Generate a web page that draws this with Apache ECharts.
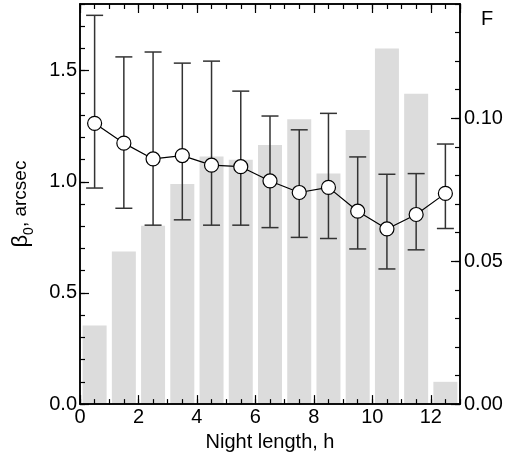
<!DOCTYPE html>
<html>
<head>
<meta charset="utf-8">
<script src="https://cdn.jsdelivr.net/npm/echarts@6/dist/echarts.min.js"></script>
<style>html,body{margin:0;padding:0;background:#fff}#c{width:511px;height:457px}</style>
</head>
<body>
<div id="c"></div>
<script>
const nightLength = [0.5, 1.5, 2.5, 3.5, 4.5, 5.5, 6.5, 7.5, 8.5, 9.5, 10.5, 11.5, 12.5];
const fraction = [0.0275, 0.0534, 0.0624, 0.077, 0.0866, 0.0855, 0.0907, 0.0997, 0.0807, 0.0959, 0.1244, 0.1086, 0.0078];
const beta = [1.263, 1.174, 1.103, 1.118, 1.075, 1.068, 1.004, 0.952, 0.975, 0.868, 0.788, 0.853, 0.948];
const betaHi = [1.749, 1.562, 1.584, 1.534, 1.543, 1.408, 1.296, 1.234, 1.308, 1.112, 1.034, 1.037, 1.170];
const betaLo = [0.972, 0.881, 0.805, 0.829, 0.805, 0.805, 0.794, 0.750, 0.745, 0.698, 0.608, 0.694, 0.790];

const FONT = "'Liberation Sans', Arial, sans-serif";
const chart = echarts.init(document.getElementById('c'));

const lineCol = '#000';
function xAx(pos, interval, len, labels, extra) {
  return Object.assign({
    type: 'value', min: 0, max: 13, interval: interval, position: pos, z: 5,
    axisLine: { show: true, onZero: false, lineStyle: { color: lineCol, width: 1.5 } },
    axisTick: { show: true, inside: true, length: len, lineStyle: { color: lineCol, width: 1.2 } },
    axisLabel: { show: labels, fontSize: 20, color: '#000', fontFamily: FONT, margin: 3, showMaxLabel: false },
    splitLine: { show: false }
  }, extra || {});
}
function yAx(pos, min, max, interval, len, labels, digits, extra) {
  return Object.assign({
    type: 'value', min: min, max: max, interval: interval, position: pos, z: 5,
    axisLine: { show: true, onZero: false, lineStyle: { color: lineCol, width: 1.5 } },
    axisTick: { show: true, inside: true, length: len, lineStyle: { color: lineCol, width: 1.2 } },
    axisLabel: { show: labels, fontSize: 20, color: '#000', fontFamily: FONT, margin: pos === 'left' ? 3 : 4,
      showMaxLabel: false, formatter: v => v.toFixed(digits) },
    splitLine: { show: false }
  }, extra || {});
}

const option = {
  animation: false,
  backgroundColor: '#fff',
  grid: { left: 80, right: 51, top: 4, bottom: 47.5, containLabel: false },
  xAxis: [
    xAx('bottom', 2, 9, true, {
      name: 'Night length, h', nameLocation: 'middle', nameGap: 21,
      nameTextStyle: { fontSize: 20, color: '#000', fontFamily: FONT }
    }),
    xAx('bottom', 0.5, 5, false),
    xAx('top', 2, 9, false),
    xAx('top', 0.5, 5, false)
  ],
  yAxis: [
    yAx('left', 0, 1.8, 0.5, 9, true, 1, {
      name: '{b|β}{s|0}{n|, arcsec}', nameLocation: 'middle', nameGap: 44, nameRotate: 90,
      nameTextStyle: {
        fontFamily: FONT, color: '#000',
        rich: {
          b: { fontSize: 22, fontFamily: FONT, color: '#000', lineHeight: 30, verticalAlign: 'middle' },
          s: { fontSize: 14, fontFamily: FONT, color: '#000', lineHeight: 14, verticalAlign: 'bottom' },
          n: { fontSize: 19, fontFamily: FONT, color: '#000', lineHeight: 30, verticalAlign: 'middle' }
        }
      }
    }),
    yAx('left', 0, 1.8, 0.1, 5, false, 1),
    yAx('right', 0, 0.14, 0.05, 9, true, 2),
    yAx('right', 0, 0.14, 0.01, 5, false, 2)
  ],
  graphic: [
    { type: 'text', left: 481, top: 9, style: { text: 'F', fontSize: 20, fontFamily: FONT, fill: '#000' } }
  ],
  series: [
    {
      type: 'bar', xAxisIndex: 0, yAxisIndex: 2, barWidth: 24, z: 1,
      itemStyle: { color: '#dcdcdc' },
      data: nightLength.map((x, i) => [x, fraction[i]])
    },
    {
      type: 'custom', xAxisIndex: 0, yAxisIndex: 0, z: 3,
      encode: { x: 0, y: [1, 2] },
      data: nightLength.map((x, i) => [x, betaLo[i], betaHi[i]]),
      renderItem: function (params, api) {
        const x = api.value(0);
        const lo = api.coord([x, api.value(1)]);
        const hi = api.coord([x, api.value(2)]);
        const w = 8.5;
        const st = { stroke: '#333', lineWidth: 1.5 };
        return {
          type: 'group',
          children: [
            { type: 'line', shape: { x1: hi[0], y1: hi[1], x2: lo[0], y2: lo[1] }, style: st },
            { type: 'line', shape: { x1: hi[0] - w, y1: hi[1], x2: hi[0] + w, y2: hi[1] }, style: st },
            { type: 'line', shape: { x1: lo[0] - w, y1: lo[1], x2: lo[0] + w, y2: lo[1] }, style: st }
          ]
        };
      }
    },
    {
      type: 'line', xAxisIndex: 0, yAxisIndex: 0, z: 4,
      symbol: 'circle', symbolSize: 14,
      lineStyle: { color: '#000', width: 1.2 },
      itemStyle: { color: '#fff', borderColor: '#000', borderWidth: 1.2 },
      data: nightLength.map((x, i) => [x, beta[i]])
    }
  ]
};
chart.setOption(option);
</script>
</body>
</html>
